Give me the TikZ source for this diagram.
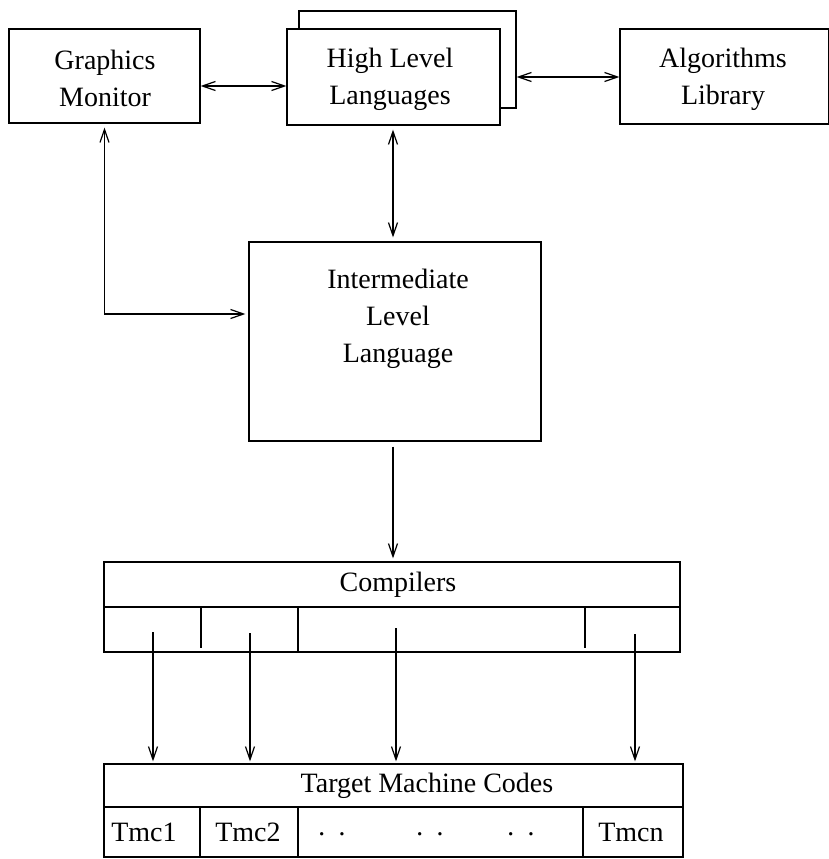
\documentclass[tikz,border=0pt]{standalone}
\usepackage{fontspec}
\setmainfont{Liberation Serif}
\usetikzlibrary{arrows.meta}

\tikzset{
  box/.style={draw, line width=1.2pt, fill=white, inner sep=0pt},
  lbl/.style={font=\fontsize{28}{37}\selectfont, align=center, inner sep=0pt},
  conn/.style={line width=1.2pt},
  tip/.style={-{Straight Barb[length=13pt,width=9pt,line width=1.2pt]}},
  tips/.style={{Straight Barb[length=13pt,width=9pt,line width=1.2pt]}-{Straight Barb[length=13pt,width=9pt,line width=1.2pt]}},
  rule/.style={line width=1.2pt}
}

\begin{document}
\begin{tikzpicture}[x=1pt, y=-1pt]
\useasboundingbox (0,0) rectangle (828,859);

% top row
\node[box, minimum width=191pt, minimum height=94pt] (gm) at (104.5,76) {};
\node[lbl] (gmtext) at (105,78) {Graphics\\Monitor};

\node[box, minimum width=217pt, minimum height=97pt] (hllback) at (407.5,59.5) {};
\node[box, minimum width=213pt, minimum height=96pt] (hll) at (393.5,77) {};
\node[lbl] (hlltext) at (390,79) {High Level\\Languages};

\node[box, minimum width=209pt, minimum height=95pt] (al) at (724.5,76.5) {};
\node[lbl] (altext) at (723,79) {Algorithms\\Library};

% intermediate language
\node[box, minimum width=292pt, minimum height=199pt] (ill) at (395,341.5) {};
\node[lbl] (illtext) at (398,319) {Intermediate\\Level\\Language};

% compilers
\node[box, minimum width=576pt, minimum height=90pt] (comp) at (392,607) {};
\node[lbl] (comptext) at (398,585) {Compilers};
\draw[rule] (comp.west) -- (comp.east);
\coordinate (cd1) at (201,607);
\coordinate (cd2) at (298,607);
\coordinate (cd3) at (585,607);
\draw[rule] (cd1) -- ++(0,41);
\draw[rule] (cd2) -- (cd2 |- comp.south);
\draw[rule] (cd3) -- ++(0,41);

% target machine codes
\node[box, minimum width=579pt, minimum height=93pt] (tgt) at (393.5,810.5) {};
\node[lbl] (tgttext) at (427,786) {Target Machine Codes};
\draw[rule] (tgt.west |- 0,807) -- (tgt.east |- 0,807);
\coordinate (td1) at (200,807);
\coordinate (td2) at (298,807);
\coordinate (td3) at (583,807);
\draw[rule] (td1) -- (td1 |- tgt.south);
\draw[rule] (td2) -- (td2 |- tgt.south);
\draw[rule] (td3) -- (td3 |- tgt.south);
\node[lbl] (tmc1) at (144,832) {Tmc1};
\node[lbl] (tmc2) at (248,832) {Tmc2};
\node[lbl] (dots1) at (332,838) {·\hspace{11pt}·};
\node[lbl] (dots2) at (430,838) {·\hspace{11pt}·};
\node[lbl] (dots3) at (521,838) {·\hspace{11pt}·};
\node[lbl] (tmcn) at (631,832) {Tmcn};

% connectors between the levels
\draw[conn, tips] ([yshift=-10pt]gm.east) -- ([yshift=-10pt]gm.east -| hll.west);
\draw[conn, tips] (hllback.east |- hll.east) -- (al.west |- hll.east);
\draw[conn, tips, shorten <=4pt, shorten >=4pt] ([xshift=-0.5pt]hll.south) -- ([xshift=-0.5pt]hll.south |- ill.north);
\draw[conn, tips, shorten <=4pt, shorten >=3pt] (gm.south) |- ([yshift=27.5pt]ill.west);
\draw[conn, tip, shorten <=5pt, shorten >=3pt] ([xshift=-2pt]ill.south) -- ([xshift=-2pt]ill.south |- comp.north);

% compiler outputs
\coordinate (o1) at (153,632);
\coordinate (o2) at (250,633);
\coordinate (o3) at (396,628);
\coordinate (o4) at (635,634);
\foreach \o in {o1,o2,o3,o4}
  \draw[conn, tip, shorten >=2pt] (\o) -- (\o |- tgt.north);
\end{tikzpicture}
\end{document}
